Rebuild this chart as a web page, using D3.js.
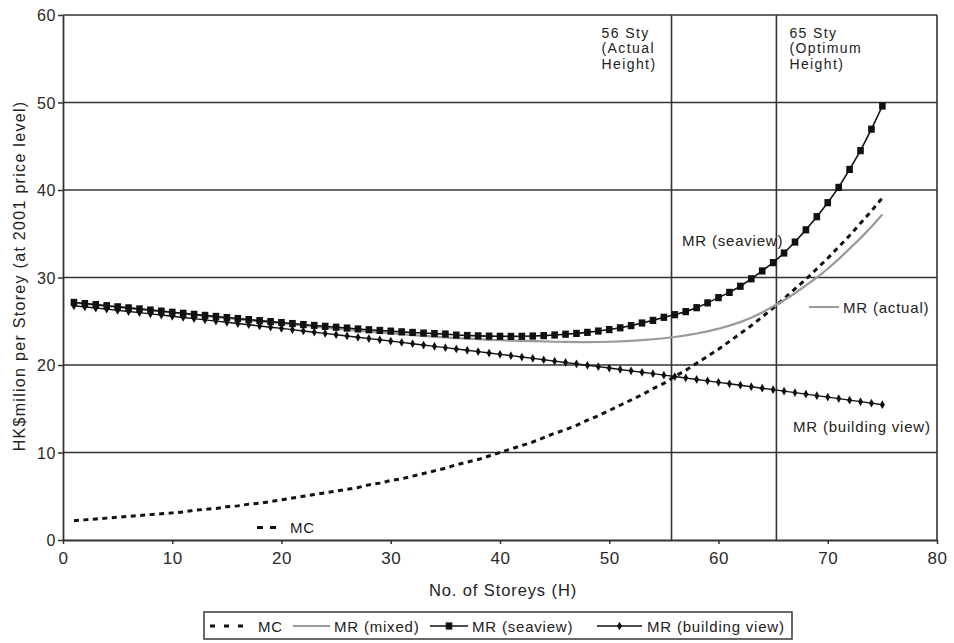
<!DOCTYPE html>
<html><head><meta charset="utf-8">
<script src="https://cdn.jsdelivr.net/npm/d3@7"></script>
<style>
body{margin:0;background:#fff}
text{font-family:"Liberation Sans",Arial,Helvetica,sans-serif;fill:#222}
</style>
</head><body>
<svg id="chart" width="954" height="643"></svg>
<script>
// ---------- DATA ----------
const storeys = [1,2,3,4,5,6,7,8,9,10,11,12,13,14,15,16,17,18,19,20,21,22,23,24,25,26,27,28,29,30,
  31,32,33,34,35,36,37,38,39,40,41,42,43,44,45,46,47,48,49,50,51,52,53,54,55,56,57,58,59,60,
  61,62,63,64,65,66,67,68,69,70,71,72,73,74,75];

const mc = [2.2,2.3,2.4,2.5,2.6,2.7,2.8,2.9,3.0,3.1, 3.2,3.4,3.5,3.6,3.8,3.9,4.1,4.2,4.4,4.6,
  4.8,5.0,5.2,5.4,5.6,5.8,6.0,6.3,6.5,6.8, 7.0,7.3,7.6,7.9,8.2,8.6,8.9,9.2,9.6,10.0,
  10.4,10.8,11.2,11.7,12.2,12.6,13.1,13.7,14.2,14.8, 15.4,16.0,16.6,17.3,17.9,18.7,19.4,20.2,21.0,21.8,
  22.7,23.6,24.5,25.5,26.5,27.6,28.7,29.8,31.0,32.2, 33.5,34.8,36.2,37.6,39.1];

const mrMixed = [27.13,27.00,26.88,26.75,26.62,26.50,26.37,26.24,26.12,25.99,
  25.86,25.74,25.61,25.48,25.36,25.23,25.11,24.99,24.87,24.75,
  24.63,24.50,24.39,24.28,24.16,24.05,23.93,23.82,23.73,23.62,
  23.52,23.42,23.33,23.24,23.16,23.08,23.01,22.95,22.88,22.84,
  22.79,22.75,22.72,22.69,22.66,22.64,22.62,22.62,22.63,22.66,
  22.70,22.76,22.84,22.94,23.06,23.20,23.38,23.60,23.85,24.15,
  24.50,24.90,25.40,26.00,26.70,27.40,28.20,29.10,30.00,31.00,
  32.10,33.30,34.50,35.80,37.20];

const mrSeaview = [27.15,27.02,26.90,26.78,26.65,26.53,26.41,26.28,26.16,26.03,
  25.91,25.79,25.67,25.55,25.42,25.31,25.19,25.07,24.96,24.85,
  24.74,24.62,24.52,24.42,24.32,24.22,24.12,24.03,23.95,23.87,
  23.79,23.72,23.65,23.59,23.54,23.42,23.37,23.33,23.30,23.28,
  23.27,23.28,23.31,23.36,23.43,23.52,23.61,23.73,23.88,24.05,
  24.25,24.50,24.80,25.10,25.45,25.75,26.10,26.55,27.10,27.70,
  28.30,29.00,29.85,30.75,31.70,32.80,34.05,35.45,36.95,38.55,
  40.30,42.35,44.50,46.95,49.60];

const mrBuilding = [26.77,26.64,26.51,26.38,26.24,26.11,25.98,25.84,25.71,25.57,
  25.43,25.30,25.16,25.02,24.88,24.74,24.60,24.46,24.32,24.18,
  24.04,23.89,23.75,23.61,23.46,23.32,23.17,23.02,22.88,22.73,
  22.58,22.43,22.28,22.13,21.98,21.83,21.68,21.53,21.37,21.22,
  21.07,20.91,20.76,20.60,20.44,20.29,20.13,19.97,19.81,19.65,
  19.49,19.33,19.17,19.01,18.84,18.68,18.52,18.35,18.19,18.02,
  17.85,17.69,17.52,17.35,17.18,17.01,16.84,16.67,16.50,16.33,
  16.16,15.98,15.81,15.64,15.46];

const xTicks = [0,10,20,30,40,50,60,70,80];
const yTicks = [0,10,20,30,40,50,60];
const refStoreys = [55.7, 65.3];
const refLabels = [["56 Sty","(Actual","Height)"],["65 Sty","(Optimum","Height)"]];
const legendLabels = ["MC","MR (mixed)","MR (seaview)","MR (building view)"];
const xTitle = "No. of Storeys (H)";
const yTitle = "HK$milion per Storey (at 2001 price level)";

// ---------- LAYOUT ----------
const svg = d3.select("#chart");
const L = 63, R = 937, T = 15, B = 540;
const x = d3.scaleLinear().domain([0,80]).range([L,R]);
const y = d3.scaleLinear().domain([0,60]).range([B,T]);
const gridColor = "#333";

// horizontal gridlines
svg.append("g").selectAll("line").data(yTicks.filter(v=>v>0)).join("line")
  .attr("x1",L).attr("x2",R).attr("y1",d=>y(d)).attr("y2",d=>y(d))
  .attr("stroke",gridColor).attr("stroke-width",1.6);
// right border
svg.append("line").attr("x1",R).attr("x2",R).attr("y1",T).attr("y2",B)
  .attr("stroke",gridColor).attr("stroke-width",1.6);
// reference vertical lines
svg.append("g").selectAll("line").data(refStoreys).join("line")
  .attr("x1",d=>x(d)).attr("x2",d=>x(d)).attr("y1",T).attr("y2",B)
  .attr("stroke",gridColor).attr("stroke-width",1.6);

// axes
const yAxis = svg.append("g").attr("transform",`translate(${L},0)`)
  .call(d3.axisLeft(y).tickValues(yTicks).tickSize(5).tickSizeOuter(0).tickPadding(2));
yAxis.selectAll("text").style("font-size","16px").style("letter-spacing","0.6px").attr("dy","0.36em");
const xAxis = svg.append("g").attr("transform",`translate(0,${B})`)
  .call(d3.axisBottom(x).tickValues(xTicks).tickSize(4).tickSizeOuter(0).tickPadding(8));
xAxis.selectAll("text").style("font-size","17px").style("letter-spacing","0.6px");
svg.selectAll(".domain").attr("stroke",gridColor).attr("stroke-width",1.8);
svg.selectAll(".tick line").attr("stroke",gridColor).attr("stroke-width",1.5);
svg.selectAll(".tick text").style("fill","#2a2a2a");

// axis titles
svg.append("text").attr("x",503).attr("y",596).attr("text-anchor","middle")
  .style("font-size","16.5px").style("letter-spacing","0.9px").text(xTitle);
svg.append("text").attr("transform","translate(25,276) rotate(-90)").attr("text-anchor","middle")
  .style("font-size","16px").style("letter-spacing","1.3px").text(yTitle);

// ---------- SERIES ----------
const line = arr => d3.line().x((d,i)=>x(storeys[i])).y(d=>y(d))(arr);

// MC dashed
svg.append("path").attr("d",line(mc)).attr("fill","none").attr("stroke","#111")
  .attr("stroke-width",3).attr("stroke-dasharray","5,4.5");
// MR mixed (grey)
svg.append("path").attr("d",line(mrMixed)).attr("fill","none").attr("stroke","#9a9a9a")
  .attr("stroke-width",2.2);
// MR building view
svg.append("path").attr("d",line(mrBuilding)).attr("fill","none").attr("stroke","#111")
  .attr("stroke-width",1.4);
svg.append("g").selectAll("path").data(mrBuilding).join("path")
  .attr("d",d3.symbol(d3.symbolDiamond,22))
  .attr("transform",(d,i)=>`translate(${x(storeys[i])},${y(d)})`).attr("fill","#111");
// MR seaview
svg.append("path").attr("d",line(mrSeaview)).attr("fill","none").attr("stroke","#111")
  .attr("stroke-width",1.6);
svg.append("g").selectAll("rect").data(mrSeaview).join("rect")
  .attr("x",(d,i)=>x(storeys[i])-3.3).attr("y",d=>y(d)-3.6)
  .attr("width",6.6).attr("height",7.2).attr("fill","#111");

// ---------- ANNOTATIONS ----------
refStoreys.forEach((h,k)=>{
  const tx = k===0 ? x(h)-70 : x(h)+13;
  const t = svg.append("text").attr("x",tx).attr("y",37.5)
    .style("font-size","14px").style("letter-spacing","1.4px");
  refLabels[k].forEach((s,j)=>{
    t.append("tspan").attr("x",tx).attr("dy", j===0 ? 0 : 15.5).text(s);
  });
});
const ann = (t,xx,yy)=>svg.append("text").attr("x",xx).attr("y",yy)
  .style("font-size","15px").style("letter-spacing","0.8px").text(t);
ann("MR (seaview)",682,246);
ann("MR (actual)",843,313);
svg.append("line").attr("x1",809).attr("x2",839).attr("y1",307).attr("y2",307)
  .attr("stroke","#9a9a9a").attr("stroke-width",2);
ann("MR (building view)",793,432);
ann("MC",290,533);
svg.append("line").attr("x1",257).attr("x2",279).attr("y1",527.5).attr("y2",527.5)
  .attr("stroke","#111").attr("stroke-width",3).attr("stroke-dasharray","6,7");

// ---------- LEGEND ----------
const lg = svg.append("g");
lg.append("rect").attr("x",204).attr("y",612).attr("width",588).attr("height",27)
  .attr("fill","#fff").attr("stroke","#444").attr("stroke-width",1.6);
const symX = [208,293,430,597], txtX = [258,334,472,647], symW = [40,37,38,45];
const ly = 626;
legendLabels.forEach((lab,i)=>{
  const x0 = symX[i], x1 = symX[i]+symW[i];
  if(i===0){
    lg.append("line").attr("x1",x0+2).attr("x2",x1).attr("y1",ly).attr("y2",ly)
      .attr("stroke","#111").attr("stroke-width",3).attr("stroke-dasharray","5,9");
  } else if(i===1){
    lg.append("line").attr("x1",x0).attr("x2",x1).attr("y1",ly).attr("y2",ly)
      .attr("stroke","#9a9a9a").attr("stroke-width",2.2);
  } else {
    lg.append("line").attr("x1",x0).attr("x2",x1).attr("y1",ly).attr("y2",ly)
      .attr("stroke","#111").attr("stroke-width",1.5);
    if(i===2) lg.append("rect").attr("x",(x0+x1)/2-3.3).attr("y",ly-3.6).attr("width",6.6).attr("height",7.2).attr("fill","#111");
    else lg.append("path").attr("d",d3.symbol(d3.symbolDiamond,22)).attr("transform",`translate(${(x0+x1)/2},${ly})`).attr("fill","#111");
  }
  lg.append("text").attr("x",txtX[i]).attr("y",ly+5.5)
    .style("font-size","15px").style("letter-spacing","0.8px").text(lab);
});
</script>
</body></html>
